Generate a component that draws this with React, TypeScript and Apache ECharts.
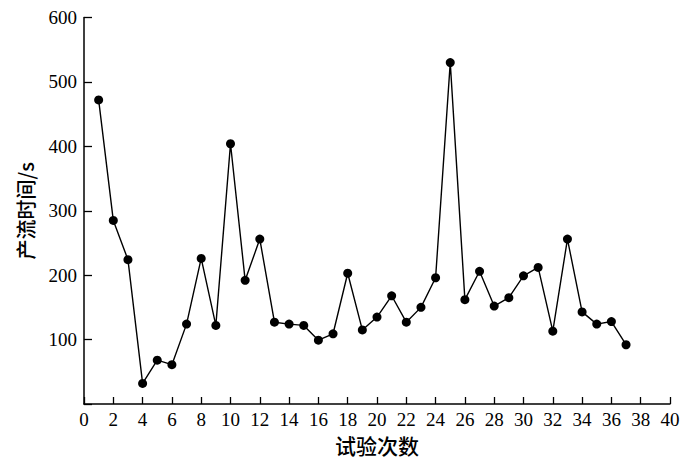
import React, { useEffect, useRef } from "react";
import * as echarts from "echarts";

const trialNumbers = [1,2,3,4,5,6,7,8,9,10,11,12,13,14,15,16,17,18,19,20,21,22,23,24,25,26,27,28,29,30,31,32,33,34,35,36,37];
const runoffTimes = [472,285,224,32,68,61,124,226,122,404,192,256,127,124,122,99,109,203,115,135,168,127,150,196,530,162,206,152,165,199,212,113,256,143,124,128,92];

const xAxisTitle = "试验次数";
const yAxisTitle = "产流时间/s";

export default function App() {
  const ref = useRef<HTMLDivElement>(null);
  useEffect(() => {
    if (!ref.current) return;
    const chart = echarts.init(ref.current, undefined, { renderer: "svg" });
    const serif = "'Liberation Serif', 'Times New Roman', serif";
    const cjk = "'Noto Sans CJK SC', sans-serif";
    chart.setOption({
      animation: false,
      backgroundColor: "#ffffff",
      grid: { left: 84, right: 30, top: 17.5, bottom: 67, containLabel: false },
      xAxis: {
        type: "value",
        min: 0,
        max: 40,
        interval: 2,
        name: xAxisTitle,
        nameLocation: "middle",
        nameGap: 30,
        nameTextStyle: { fontFamily: cjk, fontSize: 21, color: "#000", fontWeight: 500 },
        axisLine: { show: true, lineStyle: { color: "#000", width: 1.5 } },
        axisTick: { show: true, inside: true, length: 7, lineStyle: { color: "#000", width: 1.3 } },
        axisLabel: { fontFamily: serif, fontSize: 19, color: "#000", margin: 6 },
        splitLine: { show: false },
      },
      yAxis: {
        type: "value",
        min: 0,
        max: 600,
        interval: 100,
        name: yAxisTitle,
        nameLocation: "middle",
        nameGap: 49,
        nameTextStyle: { fontFamily: cjk, fontSize: 20, color: "#000", fontWeight: 500 },
        axisLine: { show: true, lineStyle: { color: "#000", width: 1.5 } },
        axisTick: { show: true, inside: true, length: 8, lineStyle: { color: "#000", width: 1.3 } },
        axisLabel: {
          fontFamily: serif,
          fontSize: 19,
          color: "#000",
          margin: 7,
          formatter: (v: number) => (v === 0 ? "" : String(v)),
        },
        splitLine: { show: false },
      },
      series: [
        {
          type: "line",
          data: trialNumbers.map((x, i) => [x, runoffTimes[i]]),
          symbol: "circle",
          symbolSize: 9,
          itemStyle: { color: "#000" },
          lineStyle: { color: "#000", width: 1.4 },
        },
      ],
    });
    return () => chart.dispose();
  }, []);
  return <div ref={ref} style={{ width: 700, height: 471, position: "absolute", left: 0, top: 0 }} />;
}
